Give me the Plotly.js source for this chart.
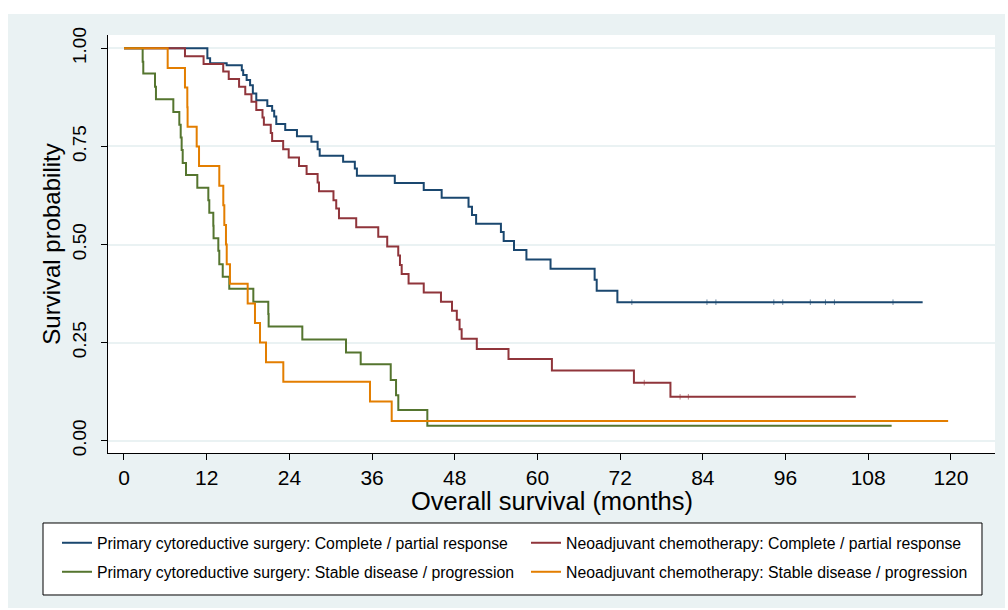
<!DOCTYPE html>
<html>
<head>
<meta charset="utf-8">
<script src="https://cdn.plot.ly/plotly-3.0.1.min.js"></script>
<style>
  html, body { margin: 0; padding: 0; background: #ffffff; width: 1008px; height: 610px; overflow: hidden; }
  #chart { position: absolute; left: 8px; top: 14px; width: 997px; height: 594px; }
</style>
</head>
<body>
<div id="chart"></div>
<script>
// Kaplan-Meier step data (months, survival probability)
const pcsRespT = [0,12.1,12.5,14.9,17.1,17.3,17.8,18.3,18.7,19.2,20.8,21.5,21.8,22.1,23.4,25.1,27.2,28.1,28.4,31.8,33.5,33.8,39.3,43.5,46.1,50.0,50.5,51.1,54.7,55.1,56.6,58.4,61.9,68.3,68.6,71.6,115.9];
const pcsRespS = [1,0.975,0.962,0.957,0.944,0.932,0.919,0.906,0.885,0.868,0.853,0.841,0.826,0.807,0.792,0.776,0.762,0.743,0.726,0.711,0.694,0.675,0.657,0.639,0.619,0.596,0.575,0.553,0.532,0.509,0.486,0.462,0.438,0.410,0.382,0.353,0.353];

const nactRespT = [0,8.85,11.55,14.4,15.2,16.7,17.6,18.5,19.2,20.1,20.3,21.3,21.5,23.1,23.9,25.4,26.5,28.1,28.3,30.4,30.8,31.2,33.7,36.9,38.2,39.8,40.05,40.3,41.3,43.5,46.0,47.6,48.3,48.7,49.0,51.2,55.8,62.1,74.0,79.3,106.2];
const nactRespS = [1,0.980,0.960,0.941,0.922,0.902,0.883,0.864,0.843,0.824,0.805,0.784,0.764,0.743,0.722,0.700,0.680,0.658,0.636,0.613,0.592,0.567,0.544,0.520,0.495,0.472,0.448,0.425,0.401,0.378,0.354,0.331,0.308,0.284,0.260,0.234,0.208,0.179,0.148,0.112,0.112];

const pcsProgT = [0,2.71,2.80,4.50,4.64,7.16,8.03,8.23,8.37,8.52,9.00,10.64,12.24,12.38,12.96,13.0,13.69,13.83,14.33,15.28,18.77,20.94,20.99,25.88,32.22,34.35,38.71,39.48,39.81,44.02,111.4];
const pcsProgS = [1,0.966,0.936,0.902,0.870,0.838,0.805,0.773,0.741,0.708,0.677,0.645,0.613,0.581,0.548,0.516,0.484,0.450,0.418,0.387,0.354,0.323,0.291,0.258,0.225,0.195,0.155,0.116,0.078,0.038,0.038];

const nactProgT = [0,6.34,8.85,9.19,9.23,10.55,10.89,13.83,14.41,14.56,14.80,14.91,15.38,17.95,19.01,19.74,20.61,23.12,35.70,38.85,119.6];
const nactProgS = [1,0.95,0.90,0.85,0.80,0.75,0.70,0.65,0.60,0.55,0.50,0.45,0.40,0.35,0.30,0.25,0.20,0.15,0.10,0.05,0.05];

// censoring marks
const pcsRespCensT = [73.7,84.6,85.9,94.3,95.6,99.6,101.8,103.1,111.6];
const pcsRespCensS = [0.353,0.353,0.353,0.353,0.353,0.353,0.353,0.353,0.353];
const nactRespCensT = [75.5,80.7,81.9];
const nactRespCensS = [0.148,0.112,0.112];

const seriesNames = [
  "Primary cytoreductive surgery: Complete / partial response",
  "Neoadjuvant chemotherapy: Complete / partial response",
  "Primary cytoreductive surgery: Stable disease / progression",
  "Neoadjuvant chemotherapy: Stable disease / progression"
];
const seriesColors = ["#1a476f", "#90353b", "#55752f", "#e37e00"];

const xTicks = [0,12,24,36,48,60,72,84,96,108,120];
const yTicks = [0,0.25,0.5,0.75,1];
const yTickText = ["0.00","0.25","0.50","0.75","1.00"];
const xTitle = "Overall survival (months)";
const yTitle = "Survival probability";

const FONT = "Liberation Sans, Arial, Helvetica, sans-serif";

function km(t, s, i, legendId) {
  return {
    x: t, y: s, type: "scatter", mode: "lines",
    line: { shape: "hv", color: seriesColors[i], width: 2 },
    name: seriesNames[i], legend: legendId, hoverinfo: "skip"
  };
}
function cens(t, s, i) {
  return {
    x: t, y: s, type: "scatter", mode: "markers", showlegend: false, hoverinfo: "skip",
    marker: { symbol: "line-ns", size: 4, opacity: 0.6, line: { color: seriesColors[i], width: 1 } }
  };
}

const data = [
  km(pcsRespT, pcsRespS, 0, "legend"),
  km(nactRespT, nactRespS, 1, "legend"),
  km(pcsProgT, pcsProgS, 2, "legend2"),
  km(nactProgT, nactProgS, 3, "legend2"),
  cens(pcsRespCensT, pcsRespCensS, 0),
  cens(nactRespCensT, nactRespCensS, 1)
];

const legendCommon = {
  orientation: "h", xanchor: "left", yanchor: "middle",
  x: -0.0575, entrywidth: 424, entrywidthmode: "pixels",
  bgcolor: "rgba(0,0,0,0)", borderwidth: 0,
  font: { family: FONT, size: 15.8, color: "#000" }
};

const layout = {
  width: 997, height: 594,
  margin: { l: 100, r: 10, t: 21, b: 155 },
  paper_bgcolor: "#eaf2f3",
  plot_bgcolor: "#ffffff",
  font: { family: FONT, color: "#000" },
  showlegend: true,
  xaxis: {
    range: [-2.32, 126.4], tickvals: xTicks, ticktext: xTicks.map(String),
    showgrid: false, zeroline: false, showline: true, linecolor: "#000", linewidth: 1,
    ticks: "outside", ticklen: 6, tickcolor: "#000", tickwidth: 1,
    tickfont: { family: FONT, size: 21, color: "#000" },
    title: { text: "" }
  },
  yaxis: {
    range: [-0.0313, 1.034], tickvals: yTicks, ticktext: yTickText,
    showgrid: true, gridcolor: "#eaf2f3", gridwidth: 2,
    zeroline: false, showline: true, linecolor: "#000", linewidth: 1,
    ticks: "outside", ticklen: 6, tickcolor: "#000", tickwidth: 1, tickangle: -90,
    ticklabelstandoff: 7,
    tickfont: { family: FONT, size: 19, color: "#000" },
    title: { text: yTitle, font: { family: FONT, size: 24, color: "#000" }, standoff: 2 }
  },
  annotations: [{
    text: xTitle, xref: "paper", yref: "paper", x: 0.5, y: -0.116,
    xanchor: "center", yanchor: "middle", showarrow: false,
    font: { family: FONT, size: 25.5, color: "#000" }
  }],
  legend: Object.assign({}, legendCommon, { y: -0.2153 }),
  legend2: Object.assign({}, legendCommon, { y: -0.2847 }),
  shapes: [{
    type: "rect", xref: "paper", yref: "paper", layer: "below",
    x0: -0.07328, x1: 0.98534, y0: -0.16746, y1: -0.33971,
    line: { color: "#000", width: 1 }, fillcolor: "#ffffff"
  }]
};

Plotly.newPlot("chart", data, layout, { displayModeBar: false, staticPlot: true });
</script>
</body>
</html>
